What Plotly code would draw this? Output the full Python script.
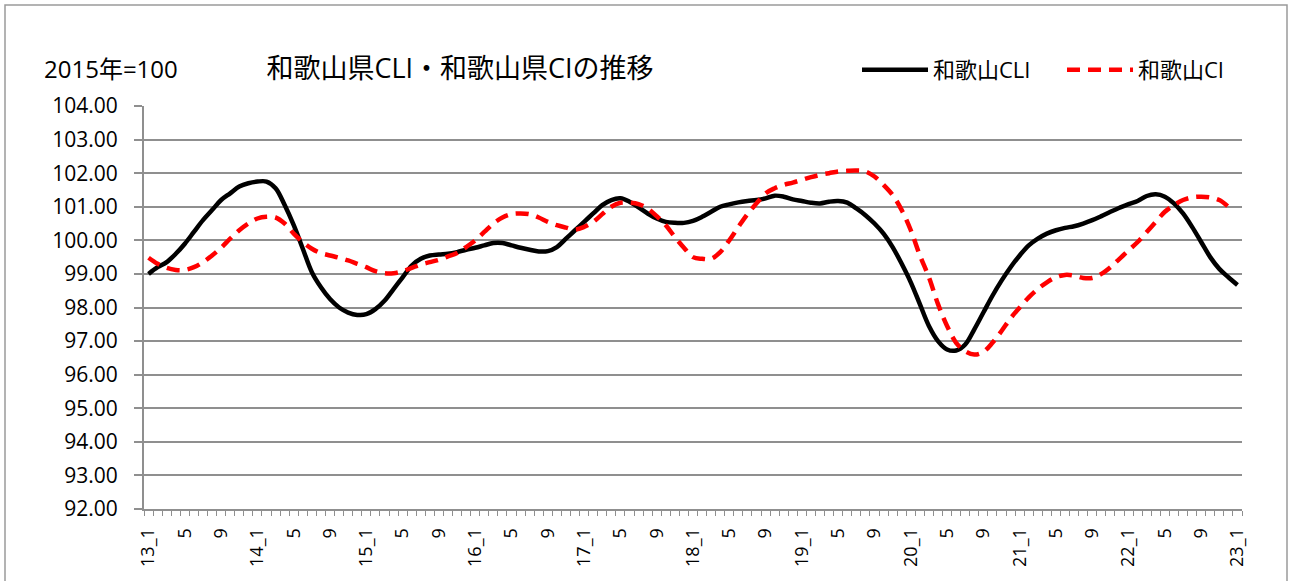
import plotly.graph_objects as go

# ---- data ----
cli = [
    99.0, 99.2, 99.35, 99.6, 99.9, 100.25, 100.6, 100.9, 101.2, 101.4, 101.6, 101.7,
    101.75, 101.75, 101.55, 101.05, 100.45, 99.75, 99.05, 98.6, 98.25, 98.0, 97.85, 97.78,
    97.8, 97.95, 98.2, 98.55, 98.9, 99.25, 99.45, 99.55, 99.58, 99.6, 99.65, 99.72,
    99.78, 99.85, 99.92, 99.92, 99.85, 99.78, 99.72, 99.67, 99.68, 99.8, 100.05, 100.3,
    100.55, 100.8, 101.05, 101.2, 101.25, 101.15, 100.98, 100.8, 100.65, 100.55, 100.52, 100.52,
    100.58, 100.7, 100.85, 101.0, 101.07, 101.13, 101.17, 101.2, 101.25, 101.33, 101.3, 101.22,
    101.17, 101.12, 101.1, 101.15, 101.17, 101.12, 100.95, 100.75, 100.5, 100.2, 99.8, 99.3,
    98.75, 98.1, 97.45, 97.0, 96.75, 96.72, 96.9, 97.35, 97.85, 98.35, 98.8, 99.2,
    99.55, 99.85, 100.05, 100.2, 100.3, 100.37, 100.42, 100.5, 100.6, 100.72, 100.85, 100.97,
    101.08, 101.17, 101.32, 101.37, 101.3, 101.1, 100.8, 100.4, 99.95, 99.5, 99.15, 98.9,
    98.67,
]
ci = [
    99.48, 99.3, 99.18, 99.12, 99.12, 99.2, 99.35, 99.55, 99.78, 100.05, 100.3, 100.5,
    100.65, 100.7, 100.68, 100.5, 100.2, 99.95, 99.75, 99.62, 99.55, 99.48, 99.4, 99.3,
    99.2, 99.08, 99.02, 99.02, 99.08, 99.18, 99.28, 99.35, 99.42, 99.52, 99.62, 99.8,
    100.0, 100.25, 100.5, 100.68, 100.78, 100.8, 100.78, 100.68, 100.55, 100.45, 100.38, 100.32,
    100.4, 100.55, 100.78, 101.0, 101.12, 101.12, 101.08, 100.95, 100.72, 100.45, 100.1, 99.78,
    99.5, 99.45, 99.45, 99.65, 100.0, 100.4, 100.78, 101.1, 101.4, 101.55, 101.65, 101.72,
    101.8, 101.88, 101.95, 102.0, 102.05, 102.07, 102.08, 102.05, 101.9, 101.65, 101.35, 100.9,
    100.3, 99.55, 98.9, 98.1, 97.45, 96.95, 96.7, 96.6, 96.68, 96.95, 97.3, 97.68,
    98.0, 98.3, 98.55, 98.75, 98.9, 98.97, 98.95, 98.88, 98.88, 99.0, 99.2, 99.45,
    99.7, 99.95, 100.25, 100.55, 100.85, 101.05, 101.2, 101.28, 101.3, 101.28, 101.2, 101.0,
]
years = ["13", "14", "15", "16", "17", "18", "19", "20", "21", "22", "23"]
tick_months = [1, 5, 9]
series_names = ["和歌山CLI", "和歌山CI"]
title_text = "和歌山県CLI・和歌山県CIの推移"
unit_text = "2015年=100"

# month index and tick labels
tickvals, ticktext = [], []
for yi, yy in enumerate(years):
    for m in tick_months:
        idx = yi * 12 + (m - 1)
        if idx >= len(cli):
            break
        tickvals.append(idx)
        ticktext.append(f"{yy}_{m}" if m == 1 else str(m))

FONT = "Open Sans, Noto Sans CJK JP, sans-serif"
GRID = "#8f8f8f"

fig = go.Figure()
fig.add_trace(go.Scatter(
    x=list(range(len(cli))), y=cli, name=series_names[0], mode="lines",
    line=dict(color="black", width=4.5, shape="spline"), legend="legend",
))
fig.add_trace(go.Scatter(
    x=list(range(len(ci))), y=ci, name=series_names[1], mode="lines",
    line=dict(color="#ff0000", width=4.5, shape="spline", dash="13px,8px"),
    legend="legend2",
))

W, H = 1290, 581
L, T = 144, 106
R = W - 1242
B = H - 509
pw, ph = W - L - R, H - T - B

def px_x(p):
    return (p - L) / pw

def px_y(p):
    return (H - B - p) / ph

legend_common = dict(orientation="h", xanchor="left", yanchor="middle",
                     font=dict(size=22, family=FONT, color="black"),
                     bgcolor="rgba(0,0,0,0)", itemwidth=66, y=px_y(70))

fig.update_layout(
    width=W, height=H,
    margin=dict(l=L, r=R, t=T, b=B, pad=0, autoexpand=False),
    paper_bgcolor="white", plot_bgcolor="white",
    font=dict(family=FONT, color="black"),
    title=dict(text=title_text, font=dict(size=27, family=FONT, color="black"),
               x=460 / W, xanchor="center", xref="container",
               y=1 - 69 / H, yanchor="middle", yref="container"),
    showlegend=True,
    legend=dict(x=px_x(857), **legend_common),
    legend2=dict(x=px_x(1062), **legend_common),
    xaxis=dict(
        range=[-0.5, len(cli) - 0.5], automargin=False,
        tickmode="array", tickvals=tickvals, ticktext=ticktext,
        tickangle=-90, ticks="", ticklabelstandoff=10,
        tickfont=dict(size=18, family=FONT, color="black"),
        showgrid=False, zeroline=False,
        showline=True, linecolor=GRID, linewidth=2,
        minor=dict(tick0=-0.5, dtick=1, ticks="outside", ticklen=5,
                   tickcolor=GRID, tickwidth=1, showgrid=False),
    ),
    yaxis=dict(
        range=[92, 104], dtick=1, tick0=92, tickformat=".2f", automargin=False,
        ticks="outside", ticklen=8, tickcolor=GRID, tickwidth=1.5,
        ticklabelstandoff=12,
        tickfont=dict(size=21, family=FONT, color="black"),
        showgrid=True, gridcolor=GRID, gridwidth=2,
        zeroline=False, showline=True, linecolor=GRID, linewidth=2,
    ),
    annotations=[dict(
        text=unit_text, xref="paper", yref="paper",
        x=px_x(42), xanchor="left", y=px_y(69), yanchor="middle",
        showarrow=False, font=dict(size=24, family=FONT, color="black"),
    )],
    shapes=[dict(
        type="rect", xref="paper", yref="paper",
        x0=px_x(5), x1=px_x(1287), y0=px_y(620), y1=px_y(5),
        line=dict(color="#9a9a9a", width=1.5), fillcolor="rgba(0,0,0,0)", layer="below",
    )],
)

fig.write_html("out.html", config={"displayModeBar": False},
               post_script="document.body.style.margin='0';")
